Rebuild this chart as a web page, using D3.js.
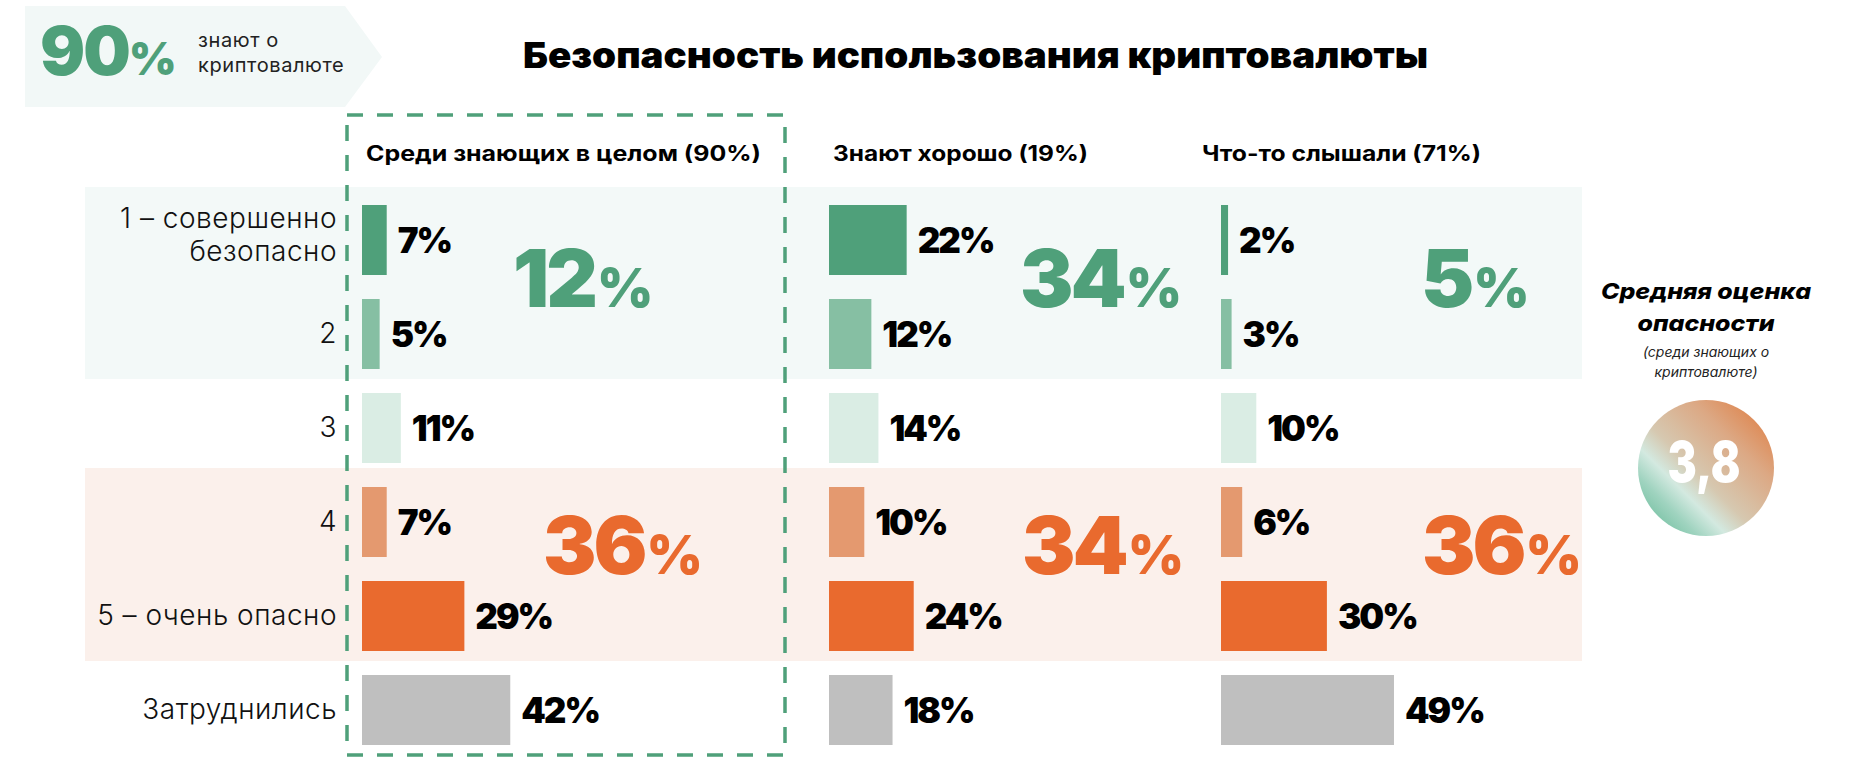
<!DOCTYPE html>
<html>
<head>
<meta charset="utf-8">
<script src="https://cdn.jsdelivr.net/npm/d3@7/dist/d3.min.js"></script>
<style>
  html, body { margin: 0; padding: 0; background: #ffffff; }
  svg { display: block; }
  text { font-family: Inter, "Open Sans", "Noto Sans", sans-serif; }
</style>
</head>
<body>
<svg id="chart" width="1850" height="780"></svg>
<script>
// ---------------- DATA ----------------
const categories = ["1 – совершенно безопасно", "2", "3", "4", "5 – очень опасно", "Затруднились"];
const groups = ["Среди знающих в целом (90%)", "Знают хорошо (19%)", "Что-то слышали (71%)"];
const valuesAll   = [7, 5, 11, 7, 29, 42];
const valuesGood  = [22, 12, 14, 10, 24, 18];
const valuesHeard = [2, 3, 10, 6, 30, 49];
const safeTotals   = [12, 34, 5];
const dangerTotals = [36, 34, 36];
const awareShare = 90;
const awareText = ["знают о", "криптовалюте"];
const title = "Безопасность использования криптовалюты";
const avgTitle = ["Средняя оценка", "опасности"];
const avgNote = ["(среди знающих о", "криптовалюте)"];
const avgScore = "3,8";

const series = [valuesAll, valuesGood, valuesHeard];

// ---------------- LAYOUT / STYLE ----------------
const rowColors = ["#4fa07a", "#86bfa3", "#daede4", "#e4996f", "#e96a2e", "#bfbfbf"];
const green = "#4fa07a", orange = "#e96a2e";
const colX = [362, 829, 1221];          // left edge of each column's bars
const headerDx = [4, 4, -19];
const safeDx = [151, 191, 200];
const dangerDx = [181, 193, 201];

const svg = d3.select("#chart");

const y = d3.scaleBand().domain(categories).range([181, 769]).padding(0.2553);
const x = d3.scaleLinear().domain([0, 100]).range([0, 353]);
const bw = y.bandwidth();

function fit(sel, target) {
  sel.attr("textLength", target).attr("lengthAdjust", "spacingAndGlyphs");
}

// ---------- background bands ----------
svg.append("rect")
  .attr("x", 85).attr("width", 1497)
  .attr("y", y(categories[0]) - 18)
  .attr("height", y(categories[1]) + bw + 10 - (y(categories[0]) - 18))
  .attr("fill", "#f3f9f8");
svg.append("rect")
  .attr("x", 85).attr("width", 1497)
  .attr("y", y(categories[3]) - 19)
  .attr("height", y(categories[4]) + bw + 10 - (y(categories[3]) - 19))
  .attr("fill", "#fbf0eb");

// ---------- badge ----------
svg.append("polygon")
  .attr("points", "25,6 345,6 382,57 345,107 25,107")
  .attr("fill", "#f2f8f7");
const badge = svg.append("text").attr("x", 40).attr("y", 75)
  .attr("fill", green).attr("font-weight", 900).attr("letter-spacing", -2);
badge.append("tspan").attr("font-size", 67).text(awareShare);
badge.append("tspan").attr("font-size", 46).text("%");
svg.selectAll("text.aware").data(awareText).join("text")
  .attr("class", "aware")
  .attr("x", 198).attr("y", (d, i) => 47 + i * 25)
  .attr("font-size", 20).attr("font-weight", 400).attr("fill", "#222")
  .attr("letter-spacing", 0.6)
  .text(d => d);

// ---------- title ----------
svg.append("text").attr("x", 523).attr("y", 68)
  .attr("font-size", 36).attr("font-weight", 900).attr("fill", "#000")
  .text(title).call(fit, 905);

// ---------- dashed frame ----------
svg.append("rect")
  .attr("x", 347).attr("y", 115).attr("width", 438).attr("height", 640)
  .attr("fill", "none").attr("stroke", green).attr("stroke-width", 3.5)
  .attr("stroke-dasharray", "16,14");

// ---------- column headers ----------
const headerW = [395, 255, 279];
groups.forEach((g, i) => {
  svg.append("text")
    .attr("x", colX[i] + headerDx[i]).attr("y", 161)
    .attr("font-size", 21).attr("font-weight", 700).attr("fill", "#000")
    .text(g).call(fit, headerW[i]);
});

// ---------- row labels ----------
const labels = svg.append("g");
categories.forEach((c, i) => {
  const cy = y(c) + bw / 2;
  const t = labels.append("text")
    .attr("x", 337).attr("text-anchor", "end")
    .attr("font-size", 28).attr("font-weight", 300).attr("fill", "#111")
    .attr("letter-spacing", 0.5);
  if (i === 0) {
    t.append("tspan").attr("x", 337).attr("y", cy - 12).text("1 – совершенно");
    t.append("tspan").attr("x", 337).attr("y", cy + 21).text("безопасно");
  } else {
    t.attr("y", cy + 9).text(c);
  }
});

// ---------- bars + value labels ----------
series.forEach((vals, gi) => {
  const g = svg.append("g").attr("transform", `translate(${colX[gi]},0)`);
  g.selectAll("rect").data(vals).join("rect")
    .attr("x", 0)
    .attr("y", (d, i) => y(categories[i]))
    .attr("width", d => x(d))
    .attr("height", bw)
    .attr("fill", (d, i) => rowColors[i]);
  g.selectAll("text").data(vals).join("text")
    .attr("x", d => x(d) + 11)
    .attr("y", (d, i) => y(categories[i]) + bw / 2 + 13)
    .attr("font-size", 35).attr("font-weight", 900).attr("fill", "#000")
    .attr("letter-spacing", -2)
    .text(d => d + "%");
});

// ---------- group totals ----------
function bigNum(xp, yp, v, color) {
  const t = svg.append("text").attr("x", xp).attr("y", yp)
    .attr("fill", color).attr("font-weight", 900).attr("letter-spacing", -3);
  t.append("tspan").attr("font-size", 80).text(v);
  t.append("tspan").attr("font-size", 54).attr("dx", 2).text("%");
}
safeTotals.forEach((v, i) => bigNum(colX[i] + safeDx[i], y(categories[1]) + 8, v, green));
dangerTotals.forEach((v, i) => bigNum(colX[i] + dangerDx[i], y(categories[4]) - 7, v, orange));

// ---------- average score ----------
const cxA = 1706, cyA = 468;
const avgW = [210, 137];
svg.selectAll("text.avgT").data(avgTitle).join("text")
  .attr("class", "avgT")
  .attr("x", (d, i) => cxA - avgW[i] / 2).attr("y", (d, i) => 299 + i * 32)
  .attr("font-size", 22).attr("font-weight", 800)
  .attr("font-style", "italic").attr("fill", "#000")
  .text(d => d)
  .each(function(d, i) { d3.select(this).call(fit, avgW[i]); });
svg.selectAll("text.avgN").data(avgNote).join("text")
  .attr("class", "avgN")
  .attr("x", cxA).attr("y", (d, i) => 357 + i * 20)
  .attr("text-anchor", "middle").attr("font-size", 14).attr("font-weight", 400)
  .attr("font-style", "italic").attr("fill", "#222")
  .text(d => d);

const defs = svg.append("defs");
const grad = defs.append("linearGradient").attr("id", "avgGrad")
  .attr("x1", "0%").attr("y1", "100%").attr("x2", "100%").attr("y2", "0%");
[["0%", "#55b38c"], ["22%", "#9fd3bf"], ["33%", "#d3e9e0"], ["45%", "#d6c8b0"],
 ["70%", "#dca884"], ["100%", "#e07535"]].forEach(([o, c]) =>
  grad.append("stop").attr("offset", o).attr("stop-color", c));
svg.append("circle").attr("cx", cxA).attr("cy", cyA).attr("r", 68)
  .attr("fill", "url(#avgGrad)");
svg.append("text")
  .attr("transform", `translate(${cxA - 2},482) scale(0.78,1)`)
  .attr("text-anchor", "middle").attr("font-size", 56).attr("font-weight", 900)
  .attr("fill", "#ffffff").text(avgScore);
</script>
</body>
</html>
